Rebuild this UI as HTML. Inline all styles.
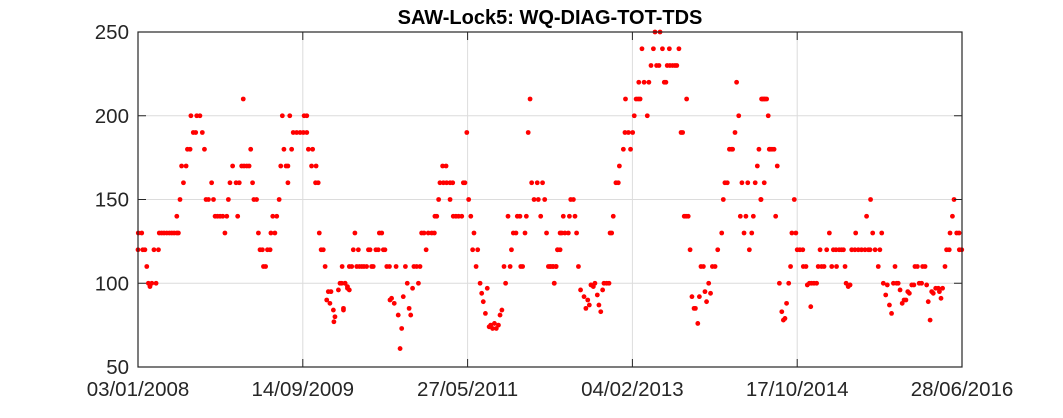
<!DOCTYPE html>
<html><head><meta charset="utf-8"><style>
body{margin:0;background:#fff;width:1063px;height:413px;overflow:hidden}
svg text{font-family:"Liberation Sans",Arial,sans-serif}
</style></head><body>
<svg id="chart" width="1063" height="413" viewBox="0 0 1063 413">
<rect x="0" y="0" width="1063" height="413" fill="#fff"/>
<text x="550" y="24" text-anchor="middle" font-size="20" font-weight="bold" fill="#000">SAW-Lock5: WQ-DIAG-TOT-TDS</text>
<g id="grid"></g><g id="marks"></g><g id="axes"></g>
</svg>
<script>
const dayOffsets = [0,1,14,18,26,33,39,45,52,68,60,77,80,89,98,108,118,127,136,146,152,146,158,164,171,181,186,196,199,208,217,221,233,242,250,256,265,277,284,290,299,309,319,334,327,340,346,356,369,375,381,390,399,409,418,396,424,431,436,446,453,459,468,472,480,487,497,500,515,507,522,531,537,543,549,557,564,564,571,578,584,597,610,622,635,625,635,641,657,653,670,668,678,682,689,697,704,710,716,722,726,735,741,737,754,760,768,773,779,788,795,
766,773,779,788,795,804,810,816,829,823,833,842,850,860,867,873,879,885,895,904,908,917,923,929,936,946,948,954,964,971,979,986,992,998,1006,1013,1020,1026,1033,1038,1048,1061,1055,1067,1076,1092,1105,1115,1084,1117,1124,1131,1136,1149,1161,1174,1184,1146,1159,1174,1186,1196,1206,1218,1224,1230,1237,1244,1252,1259,1264,1272,1278,1287,1293,1299,1307,1314,1321,1327,1334,1341,1348,1356,1362,1369,1377,1383,1392,1400,1405,1412,1422,1427,1437,1440,1447,1456,1461,1468,1475,1481,1490,1502,1506,1515,1522,1530,1537,1544,1553,1563,1573,1566,1579,1588,
1550,1560,1573,1566,1578,1588,1594,1606,1619,1600,1623,1644,1628,1638,1650,1657,1665,1678,1685,1692,1698,1704,1713,1719,1728,1734,1741,1748,1753,1763,1772,1776,1782,1788,1798,1807,1811,1826,1853,1832,1845,1861,1834,1867,1874,1882,1889,1884,1904,1922,1896,1939,1973,1999,2035,1916,1930,1951,1960,1945,1964,1980,1986,1991,2001,2011,2020,2027,2043,2049,2064,2055,2062,2070,2077,2084,2092,2097,2106,2112,2118,2127,2133,2139,2147,2154,2161,2171,2181,2196,2202,2208,2217,2225,2233,2237,2246,2252,2260,2266,2287,2315,2272,2294,2322,2280,2300,2309,2330,2336,2343,2350,2359,2365,2371,2375,
2346,2355,2378,2385,2393,2405,2356,2344,2399,2413,2422,2428,2434,2440,2448,2455,2460,2475,2469,2480,2490,2501,2503,2513,2518,2526,2534,2543,2553,2531,2559,2572,2581,2566,2591,2616,2626,2638,2647,2654,2601,2610,2628,2660,2664,2672,2679,2685,2697,2710,2722,2735,2748,2754,2700,2741,2756,2764,2798,2773,2791,2785,2804,2813,2819,2827,2835,2842,2854,2860,2848,2867,2875,2882,2889,2896,2902,2911,2919,2923,2932,2939,2948,2952,2961,2967,2973,2980,2986,2992,3001,3011,3015,3021,3027,3036,3042,3052,3055,3064,3070,3080,3089,3090,3099];
const tdsValues = [120,130,130,120,120,110,100,98,100,100,120,120,130,130,130,130,130,130,130,130,130,140,150,170,160,170,180,180,200,190,190,200,200,190,180,150,150,160,150,140,140,140,140,140,130,150,160,170,160,140,160,170,170,170,170,210,180,160,150,150,130,120,120,110,110,120,120,130,130,140,140,150,170,200,180,170,170,160,200,180,190,190,190,190,190,200,200,180,180,170,170,160,160,130,120,120,110,90,95,88,95,84,80,77,96,100,110,85,100,97,110,
100,84,100,98,96,110,120,130,120,110,110,110,110,110,120,120,110,110,120,120,130,130,120,120,110,110,90,91,88,110,81,61,73,92,110,100,85,81,97,110,110,110,100,130,130,130,130,130,120,140,140,150,160,160,160,160,160,170,170,150,140,140,140,140,160,160,190,150,140,120,130,110,120,100,94,89,82,97,74,75,73,76,73,75,81,84,110,100,140,110,120,130,130,140,140,110,110,130,140,190,210,160,150,160,150,140,160,150,130,110,110,110,110,100,120,130,
110,110,110,100,120,120,130,130,130,140,140,140,150,150,130,110,96,92,85,90,87,99,98,100,93,87,83,96,100,100,100,130,130,140,160,160,170,180,180,190,190,190,210,200,210,210,210,220,220,220,240,240,240,240,240,200,230,230,230,250,250,220,220,230,230,230,230,230,190,190,210,140,140,140,120,92,85,85,76,92,110,110,95,89,100,94,110,110,120,130,150,160,160,180,180,180,190,220,200,140,140,140,160,160,160,130,120,130,170,180,150,210,210,210,200,180,
210,210,180,180,180,170,160,150,140,100,83,78,79,88,100,110,130,130,150,120,120,120,110,110,99,100,100,100,100,86,110,110,110,120,120,120,120,120,120,120,130,110,110,110,100,98,99,120,120,120,120,120,120,120,130,140,150,130,130,120,120,110,100,93,99,87,82,100,100,100,110,96,88,90,90,95,94,99,99,110,110,100,100,110,110,99,89,78,95,94,97,97,95,91,97,110,120,120,130,140,150,130,130,120,120];
const yTicks = [50,100,150,200,250];
const xTickDays = [0,620,1240,1860,2480,3100];
const xTickLabels = ["03/01/2008","14/09/2009","27/05/2011","04/02/2013","17/10/2014","28/06/2016"];

const X0=138,X1=962,Y0=367,Y1=32,DMAX=3100,VMIN=50,VMAX=250;
const xs=d=>X0+(d/DMAX)*(X1-X0);
const ys=v=>Y0-(v-VMIN)/(VMAX-VMIN)*(Y0-Y1);
const NS="http://www.w3.org/2000/svg";
function mk(tag,attrs,parent){const e=document.createElementNS(NS,tag);for(const k in attrs)e.setAttribute(k,attrs[k]);parent.appendChild(e);return e;}
const grid=document.getElementById('grid'),marks=document.getElementById('marks'),axes=document.getElementById('axes');
yTicks.forEach(v=>{
  const l=mk('line',{x1:X0,x2:X1,y1:ys(v),y2:ys(v),stroke:'#dcdcdc','stroke-width':1},grid);
  
  
  mk('line',{x1:X0,x2:X0+8,y1:ys(v),y2:ys(v),stroke:'#262626'},axes);
  mk('line',{x1:X1-8,x2:X1,y1:ys(v),y2:ys(v),stroke:'#262626'},axes);
  const tx=mk('text',{x:X0-9,y:ys(v)+7,'text-anchor':'end','font-size':20.5,fill:'#262626'},axes);
  tx.textContent=v;
  
  
});
xTickDays.forEach((d,i)=>{
  const l=mk('line',{x1:xs(d),x2:xs(d),y1:Y1,y2:Y0,stroke:'#dcdcdc','stroke-width':1},grid);
  
  
  mk('line',{x1:xs(d),x2:xs(d),y1:Y0,y2:Y0-8,stroke:'#262626'},axes);
  mk('line',{x1:xs(d),x2:xs(d),y1:Y1,y2:Y1+8,stroke:'#262626'},axes);
  const tx=mk('text',{x:xs(d),y:Y0+29,'text-anchor':'middle','font-size':20.5,fill:'#262626'},axes);
  tx.textContent=xTickLabels[i];
  
  
});
const box=mk('rect',{x:X0,y:Y1,width:X1-X0,height:Y0-Y1,fill:'none',stroke:'#262626','stroke-width':1.2},axes);


dayOffsets.forEach((d,i)=>{
  const c=mk('circle',{cx:xs(d),cy:ys(tdsValues[i]),r:2.4,fill:'#ff0000'},marks);
  
  
});
</script>
</body></html>
